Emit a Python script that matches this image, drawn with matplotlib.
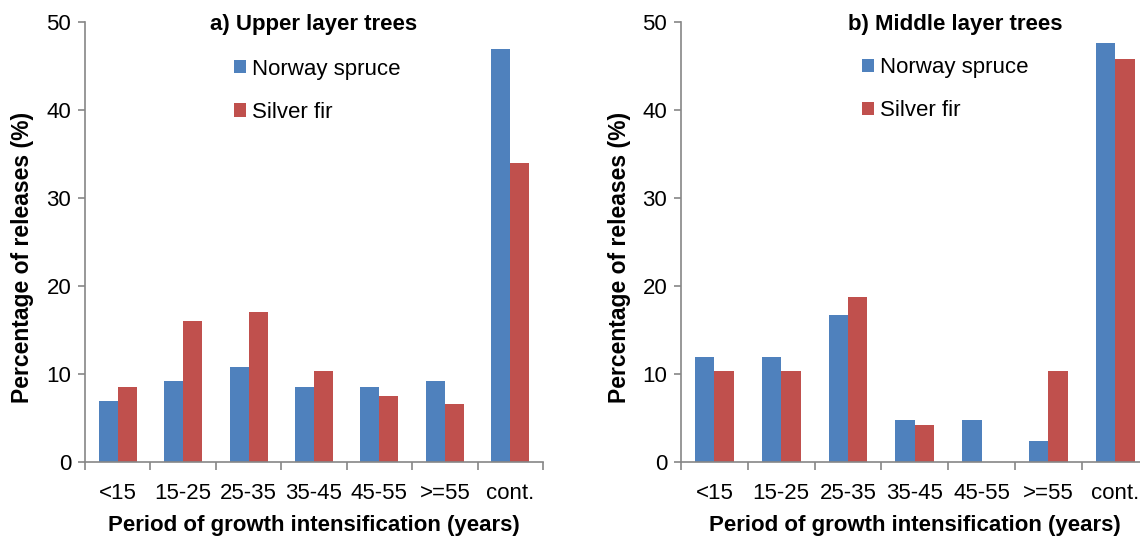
import matplotlib.pyplot as plt
import numpy as np

plt.rcParams['font.family'] = ['Liberation Sans', 'DejaVu Sans']

categories = ["<15", "15-25", "25-35", "35-45", "45-55", ">=55", "cont."]
upper_spruce = [6.9, 9.2, 10.8, 8.5, 8.5, 9.2, 46.9]
upper_fir = [8.5, 16.0, 17.0, 10.4, 7.5, 6.6, 34.0]
middle_spruce = [11.9, 11.9, 16.7, 4.8, 4.8, 2.4, 47.6]
middle_fir = [10.4, 10.4, 18.8, 4.2, 0.0, 10.4, 45.8]

blue = "#4F81BD"
red = "#C0504D"
grey = "#868686"

fig = plt.figure(figsize=(11.4, 5.36), dpi=100)
ax1 = fig.add_axes([0.0746, 0.138, 0.4017, 0.821])
ax2 = fig.add_axes([0.5974, 0.138, 0.4102, 0.821])


def panel(ax, spruce, fir, title, title_x, leg_anchor, ylab_x):
    x = np.arange(len(categories))
    w = 0.29
    ax.bar(x - w / 2, spruce, w, color=blue, label="Norway spruce")
    ax.bar(x + w / 2, fir, w, color=red, label="Silver fir")
    ax.set_xlim(-0.5, len(categories) - 0.5)
    ax.set_ylim(0, 50)
    ax.set_yticks([0, 10, 20, 30, 40, 50])
    ax.set_xticks(np.arange(len(categories) + 1) - 0.5)
    ax.set_xticklabels([])
    ax.set_xticks(x, minor=True)
    ax.set_xticklabels(categories, minor=True)
    ax.tick_params(axis="x", which="major", length=6, color=grey, width=1.2)
    ax.tick_params(axis="x", which="minor", length=0, pad=15, labelsize=16)
    ax.tick_params(axis="y", length=5, color=grey, width=1.2, labelsize=16, pad=5)
    for s in ["top", "right"]:
        ax.spines[s].set_visible(False)
    for s in ["left", "bottom"]:
        ax.spines[s].set_color(grey)
        ax.spines[s].set_linewidth(1.2)
    ax.set_ylabel("Percentage of releases (%)", fontsize=16.5, fontweight="bold")
    ax.yaxis.set_label_coords(ylab_x, 0.464)
    ax.set_xlabel("Period of growth intensification (years)", fontsize=16,
                  fontweight="bold", labelpad=8)
    ax.text(title_x, 0.995, title, transform=ax.transAxes, ha="center", va="center",
            fontsize=16, fontweight="bold")
    ax.legend(loc="upper left", bbox_to_anchor=leg_anchor, frameon=False,
              fontsize=16, handlelength=0.55, handleheight=0.55,
              handletextpad=0.25, labelspacing=1.0, borderaxespad=0)


panel(ax1, upper_spruce, upper_fir, "a) Upper layer trees", 0.5, (0.306, 0.937), -0.111)
panel(ax2, middle_spruce, middle_fir, "b) Middle layer trees", 0.586, (0.368, 0.94), -0.108)

fig.savefig("out.png", dpi=100)
